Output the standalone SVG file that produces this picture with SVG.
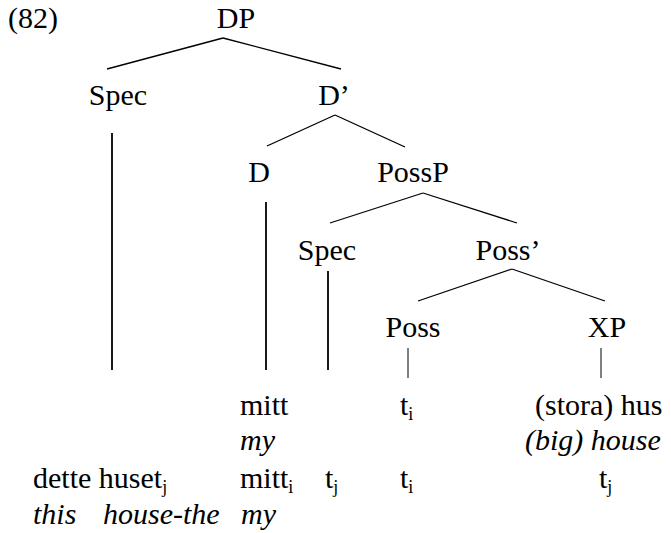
<svg xmlns="http://www.w3.org/2000/svg" width="671" height="533" viewBox="0 0 671 533">
<style>
.t text{font-size:30px;fill:#000}
.n{text-anchor:middle}
.it{font-style:italic}
.sub{font-size:18px}
#edges line{stroke:#000;stroke-width:1.3;fill:none}
#edges .v{stroke-width:1.8}
#edges .s{stroke-width:1}
</style>
<rect width="671" height="533" fill="#fff"/>
<g id="edges">
<line x1="107" y1="69" x2="223" y2="38"/>
<line x1="223" y1="38" x2="341" y2="69"/>
<line x1="267" y1="146" x2="335" y2="115"/>
<line x1="335" y1="115" x2="405" y2="147"/>
<line x1="330" y1="223" x2="423" y2="193"/>
<line x1="423" y1="193" x2="517" y2="223"/>
<line x1="418" y1="301" x2="512" y2="269"/>
<line x1="512" y1="269" x2="605" y2="301"/>
<line class="v" x1="112" y1="133" x2="112" y2="370"/>
<line class="v" x1="266" y1="202" x2="266" y2="370"/>
<line class="v" x1="328" y1="271" x2="328" y2="370"/>
<line class="s" x1="408" y1="348" x2="408" y2="378"/>
<line class="s" x1="601" y1="348" x2="601" y2="378"/>
</g>
<g class="t" font-family="Liberation Serif, DejaVu Serif, Noto Serif, serif">
<text x="8" y="28">(82)</text>
<g id="DP"><text class="n" x="236" y="28">DP</text></g>
<g id="Spec1"><text class="n" x="118" y="105">Spec</text></g>
<g id="Dbar"><text class="n" x="334" y="105">D’</text></g>
<g id="D"><text class="n" x="259" y="182">D</text></g>
<g id="PossP"><text class="n" x="413" y="182">PossP</text></g>
<g id="Spec2"><text class="n" x="327" y="260">Spec</text></g>
<g id="Possbar"><text class="n" x="508" y="260">Poss’</text></g>
<g id="Poss"><text class="n" x="413" y="337">Poss</text></g>
<g id="XP"><text class="n" x="607" y="337">XP</text></g>
<g id="leaves">
<text x="240" y="415">mitt</text>
<text x="400" y="415">t<tspan class="sub" dy="5">i</tspan></text>
<text x="535" y="415">(stora) hus</text>
<text class="it" x="240" y="450">my</text>
<text class="it" x="525" y="450">(big) house</text>
</g>
<g id="gloss">
<text x="33" y="488">dette huset<tspan class="sub" dy="5">j</tspan></text>
<text x="240" y="488">mitt<tspan class="sub" dy="5">i</tspan></text>
<text x="325" y="488">t<tspan class="sub" dy="5">j</tspan></text>
<text x="400" y="488">t<tspan class="sub" dy="5">i</tspan></text>
<text x="599" y="488">t<tspan class="sub" dy="5">j</tspan></text>
<text class="it" x="33" y="524">this</text>
<text class="it" x="103" y="524">house-the</text>
<text class="it" x="241" y="524">my</text>
</g>
</g>
</svg>
